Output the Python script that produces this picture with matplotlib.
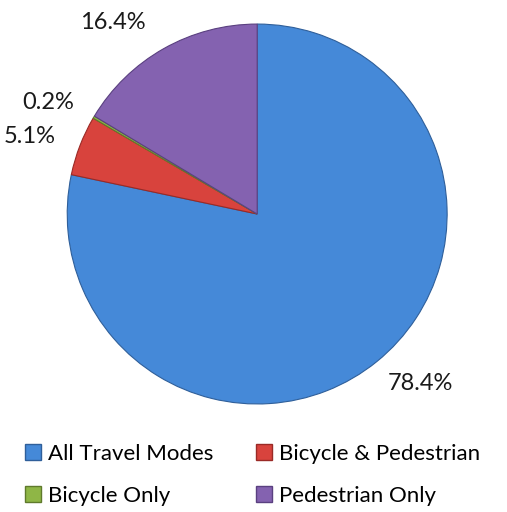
import matplotlib.pyplot as plt
from matplotlib.patches import Patch

plt.rcParams['font.family'] = ['Lato', 'DejaVu Sans']

categories = ['All Travel Modes', 'Bicycle & Pedestrian', 'Bicycle Only', 'Pedestrian Only']
shares = [78.4, 5.1, 0.2, 16.4]
pct_labels = ['78.4%', '5.1%', '0.2%', '16.4%']
colors = ['#4589d8', '#d8433d', '#8fb646', '#8462b0']
edges = ['#2f5f9a', '#9a2a26', '#5f7a2c', '#5a4080']

# label positions (x, y) in pie radius units, picked to match the reference
label_pos = [(0.86, -0.89), (-1.20, 0.41), (-1.10, 0.585), (-0.76, 1.01)]

fig = plt.figure(figsize=(5.07, 5.12), dpi=100)
ax = fig.add_axes([0.1325, 0.211, 0.7495, 0.742])
wedges, _ = ax.pie(shares, colors=colors, startangle=90, counterclock=False,
                   wedgeprops=dict(linewidth=0.8))
for w, ec in zip(wedges, edges):
    w.set_edgecolor(ec)
ax.set_xlim(-1, 1)
ax.set_ylim(-1, 1)
ax.set_aspect('equal')
ax.axis('off')

for (x, y), t in zip(label_pos, pct_labels):
    ax.text(x, y, t, ha='center', va='center', fontsize=17, color='#1a1a1a',
            clip_on=False)

handles = [Patch(facecolor=c, edgecolor=e, label=l) for c, e, l in zip(colors, edges, categories)]
# legend fills column by column, so reorder to read row by row
order = [0, 2, 1, 3]
fig.legend(handles=[handles[i] for i in order], ncol=2, loc='upper left',
           bbox_to_anchor=(0.027, 0.155), frameon=False, fontsize=16,
           handlelength=0.75, handleheight=0.75, handletextpad=0.3,
           columnspacing=1.9, labelspacing=1.0, borderpad=0)

fig.savefig('out.png', dpi=100)
